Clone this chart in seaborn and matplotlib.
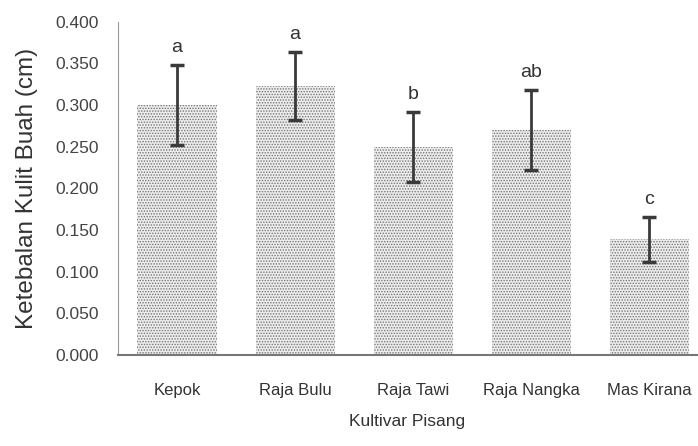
import matplotlib
matplotlib.use("Agg")
import matplotlib.pyplot as plt
import pandas as pd
import seaborn as sns

kultivar = ["Kepok", "Raja Bulu", "Raja Tawi", "Raja Nangka", "Mas Kirana"]
tebal = [0.300, 0.323, 0.250, 0.270, 0.139]
galat = [0.048, 0.041, 0.042, 0.048, 0.027]
huruf = ["a", "a", "b", "ab", "c"]

df = pd.DataFrame({"Kultivar": kultivar, "Tebal": tebal})

sns.set_style("white")
plt.rcParams["hatch.color"] = "#777777"
plt.rcParams["hatch.linewidth"] = 0.7
narrow = ["Liberation Sans Narrow", "Liberation Sans", "DejaVu Sans"]

fig = plt.figure(figsize=(6.98, 4.46), dpi=100)
ax = fig.add_axes([0.169, 0.204, 0.829, 0.747])

sns.barplot(data=df, x="Kultivar", y="Tebal", color="#ececec", width=0.67,
            saturation=1, ax=ax, errorbar=None)
for p in ax.patches:
    p.set_hatch("......")
    p.set_edgecolor("#777777")
    p.set_linewidth(0)

ax.errorbar(range(len(kultivar)), tebal, yerr=galat, fmt="none",
            ecolor="#3a3a3a", elinewidth=2, capsize=5, capthick=2.5)
for i, (v, e, h) in enumerate(zip(tebal, galat, huruf)):
    ax.text(i, v + e + 0.011, h, ha="center", va="bottom",
            fontsize=14, family=narrow, color="#333333")

ax.set_ylim(0, 0.4)
ax.set_xlim(-0.5, 4.4)
ax.set_yticks([0.05 * k for k in range(9)])
ax.set_yticklabels([f"{0.05 * k:.3f}" for k in range(9)], family=narrow,
                   fontsize=12.5, color="#444444")
ax.set_xticks(range(len(kultivar)))
ax.set_xticklabels(kultivar, family=narrow, fontsize=12, color="#333333")
ax.tick_params(axis="y", length=0, pad=14)
ax.tick_params(axis="x", length=0, pad=20)

for s in ["top", "right"]:
    ax.spines[s].set_visible(False)
ax.spines["left"].set_color("#999999")
ax.spines["bottom"].set_color("#777777")
ax.spines["bottom"].set_linewidth(1.5)

ax.set_xlabel("Kultivar Pisang", family=narrow, fontsize=12.5, color="#333333",
              labelpad=12)
ax.set_ylabel("Ketebalan Kulit Buah (cm)", family=["Liberation Sans", "DejaVu Sans"],
              fontsize=17.5, color="#333333", labelpad=12)

fig.savefig("out.png", dpi=100)
